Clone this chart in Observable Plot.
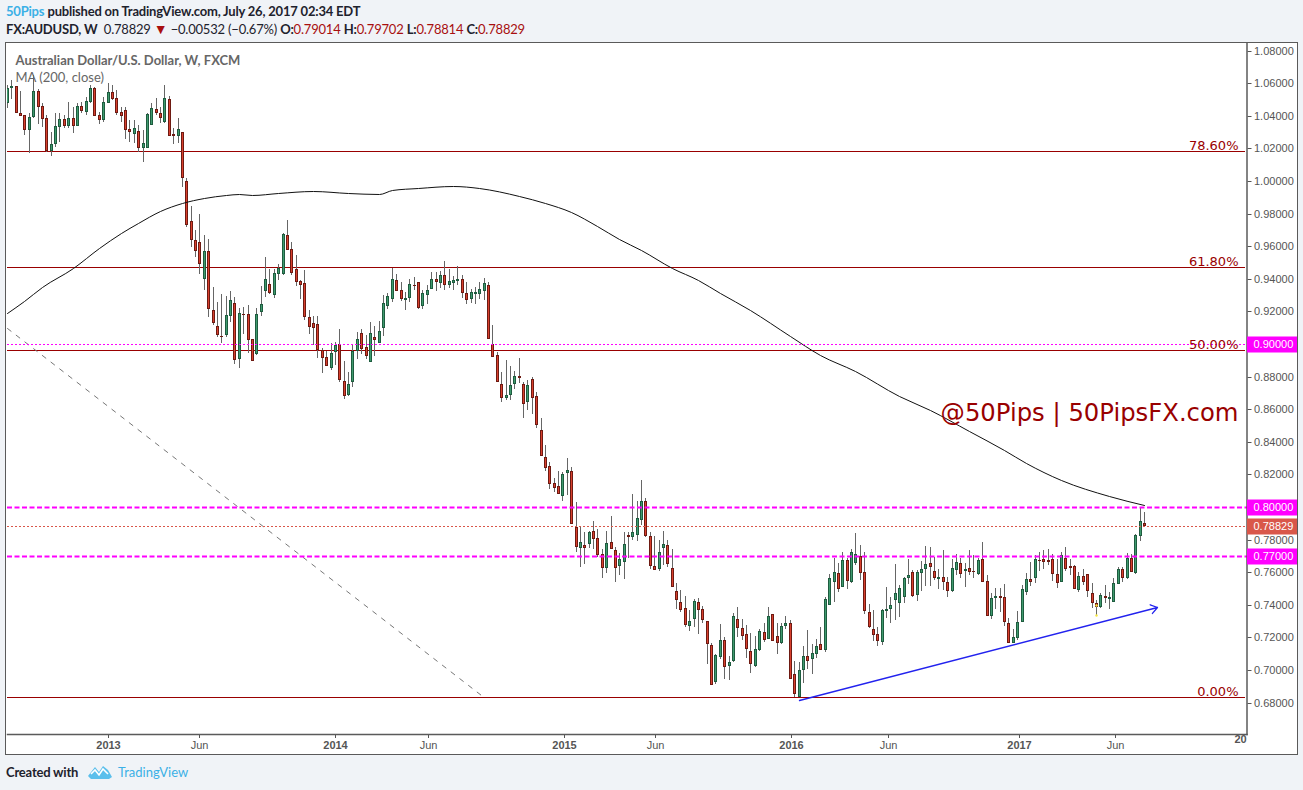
<!DOCTYPE html>
<html><head><meta charset="utf-8">
<script src="https://cdn.jsdelivr.net/npm/d3@7"></script>
<script src="https://cdn.jsdelivr.net/npm/@observablehq/plot@0.6"></script>
<style>
html,body{margin:0;padding:0;background:#f0f3f7;overflow:hidden;width:1303px;height:790px}
.hd{position:absolute;left:6px;white-space:nowrap;font-family:"Lato";font-size:13px;letter-spacing:-.2px;color:#1e222d;line-height:18px}
.hd b{font-weight:700}.blue{color:#3bb0e6}.red{color:#a80f0f}
#logo{position:absolute;left:88px;top:764px}
</style></head><body>
<div class="hd" style="top:2px"><span class="blue" style="font-weight:700">50Pips</span> <b>published on TradingView.com, July 26, 2017 02:34 EDT</b></div>
<div class="hd" style="top:20px"><b>FX:AUDUSD, W</b>&nbsp; 0.78829 <span class="red" style="font-size:14px;line-height:14px">▼</span> −0.00532 (−0.67%) <b>O:</b><span class="red">0.79014</span> <b>H:</b><span class="red">0.79702</span> <b>L:</b><span class="red">0.78814</span> <b>C:</b><span class="red">0.78829</span></div>
<div class="hd" style="top:763px"><b>Created with</b></div>
<svg id="logo" width="24" height="16" viewBox="0 0 24 16"><path d="M0 12 L7 3 L11 8 L15 2 L20 6 L24 13 L21 15 L3 15 Z" fill="#5bbfec"/><path d="M3 10 L7 6 L11 11 L15 5 L20 10" fill="none" stroke="#fff" stroke-width="1.6"/></svg>
<div class="hd blue" style="top:763px;left:118px;letter-spacing:0">TradingView</div>
<script>
// Weekly AUD/USD candles, price x 10000, first week 2012-07-30
const openPips=[10480,10568,10581,10415,10402,10310,10390,10550,10458,10384,10182,10229,10333,10378,10337,10386,10339,10458,10425,10486,10568,10402,10376,10480,10544,10507,10421,10433,10317,10290,10304,10204,10204,10345,10439,10415,10360,10501,10286,10278,10298,9998,9753,9636,9624,9401,9569,9207,9109,9049,9057,9174,9250,8910,9182,9182,9029,8940,9198,9327,9366,9302,9431,9428,9667,9581,9458,9385,9372,9164,9127,9121,8961,8918,8855,8953,9002,8771,8687,8769,8955,9066,8980,8891,9041,9004,9100,9235,9278,9391,9329,9272,9284,9362,9378,9235,9302,9339,9397,9376,9421,9364,9376,9388,9397,9311,9278,9309,9309,9327,9360,9002,8931,8753,8671,8689,8756,8804,8753,8646,8783,8681,8470,8305,8250,8145,8127,8069,8210,8219,7875,7750,7765,7775,7851,7808,7710,7624,7783,7734,7640,7664,7826,7818,7830,7922,8035,7820,7636,7621,7750,7765,7624,7485,7415,7378,7272,7315,7415,7372,7299,7151,6928,7081,7182,7026,7057,7311,7256,7219,7115,7026,7121,7231,7192,7342,7207,7167,7272,7286,6974,6836,7002,7084,7069,7100,7158,7124,7401,7542,7593,7511,7673,7542,7655,7697,7599,7354,7250,7219,7174,7364,7376,7431,7413,7450,7562,7599,7462,7593,7618,7655,7605,7556,7569,7538,7483,7612,7655,7605,7624,7605,7587,7679,7544,7333,7444,7452,7446,7286,7167,7198,7296,7480,7556,7562,7675,7679,7673,7679,7587,7542,7685,7636,7636,7493,7575,7587,7470,7409,7388,7452,7437,7419,7529,7618,7562,7685,7595,7824,7901];
const highPips=[10589,10620,10581,10550,10402,10415,10650,10562,10476,10405,10302,10415,10415,10405,10486,10456,10476,10486,10517,10591,10578,10425,10517,10599,10589,10558,10456,10456,10374,10374,10343,10312,10415,10476,10507,10456,10589,10521,10323,10384,10302,10018,9847,9699,9798,9669,9642,9348,9258,9307,9294,9325,9286,9221,9225,9237,9029,9219,9356,9534,9460,9460,9491,9679,9761,9624,9546,9393,9454,9209,9172,9172,8975,8959,9004,9012,9092,8896,8828,8994,9074,9092,9055,9135,9110,9141,9301,9315,9468,9429,9378,9321,9397,9411,9380,9331,9362,9442,9440,9448,9509,9460,9415,9478,9421,9380,9336,9352,9378,9405,9378,9115,8951,8828,8902,8865,8834,8914,8767,8779,8798,8706,8544,8380,8276,8176,8221,8215,8301,8245,8029,7877,7847,7853,7912,7863,7740,7853,7943,7753,7716,7847,7845,8080,8035,8166,8053,7847,7820,7796,7853,7796,7740,7534,7491,7454,7368,7434,7440,7393,7299,7164,7096,7282,7201,7086,7348,7385,7311,7274,7225,7209,7251,7286,7385,7342,7286,7286,7331,7307,7053,7047,7147,7243,7158,7188,7262,7446,7587,7687,7655,7722,7687,7740,7839,7765,7722,7405,7368,7262,7372,7507,7446,7650,7521,7569,7679,7613,7613,7669,7761,7755,7693,7620,7734,7569,7681,7712,7685,7655,7734,7705,7685,7785,7583,7470,7503,7505,7526,7319,7250,7362,7521,7593,7662,7704,7722,7734,7740,7710,7679,7722,7755,7681,7644,7601,7618,7589,7532,7429,7470,7523,7480,7566,7630,7630,7716,7710,7832,7992,7970];
const lowPips=[10448,10505,10415,10400,10282,10169,10384,10349,10333,10175,10155,10210,10241,10323,10323,10296,10339,10419,10405,10476,10400,10349,10364,10476,10497,10405,10364,10255,10241,10231,10180,10118,10200,10343,10405,10357,10353,10276,10227,10231,9965,9720,9597,9536,9429,9331,9167,9118,9045,9004,9045,9137,8879,8855,9061,8943,8897,8931,9174,9290,9305,9280,9393,9425,9578,9425,9358,9274,9147,9061,8996,8916,8824,8867,8840,8871,8767,8664,8681,8738,8910,8940,8910,8891,8928,9004,9051,9213,9259,9327,9264,9210,9259,9331,9217,9217,9243,9337,9327,9345,9331,9342,9331,9362,9284,9245,9250,9243,9274,9270,9033,8922,8767,8644,8656,8656,8724,8763,8546,8595,8570,8485,8315,8223,8112,8094,8082,8037,8074,7896,7724,7634,7652,7747,7744,7695,7566,7597,7740,7542,7585,7560,7685,7799,7793,7889,7818,7620,7613,7607,7644,7632,7511,7374,7358,7266,7239,7266,7221,7290,7037,6910,6916,7069,6947,6940,7051,7204,7184,7075,6980,7020,7115,7170,7188,7180,7098,7161,7253,6947,6836,6832,6920,7008,6975,7073,7124,7110,7401,7419,7478,7507,7497,7535,7642,7552,7344,7259,7180,7147,7153,7319,7290,7309,7327,7413,7528,7450,7423,7483,7517,7517,7552,7499,7491,7450,7478,7581,7562,7511,7581,7562,7583,7538,7333,7313,7374,7358,7270,7167,7167,7184,7294,7458,7515,7532,7609,7620,7644,7546,7501,7540,7607,7581,7495,7478,7521,7446,7378,7337,7378,7409,7374,7415,7526,7538,7556,7599,7591,7793,7881];
const closePips=[10569,10581,10415,10400,10310,10392,10550,10456,10382,10182,10229,10335,10378,10339,10386,10339,10458,10427,10488,10568,10400,10376,10482,10544,10505,10419,10400,10315,10302,10325,10204,10231,10411,10447,10417,10388,10507,10278,10278,10317,10020,9732,9640,9572,9493,9569,9217,9131,9057,9045,9176,9268,8904,9188,9180,9023,8897,9182,9243,9397,9315,9434,9464,9673,9578,9437,9382,9364,9167,9106,9100,8965,8916,8867,8943,8992,8781,8683,8753,8957,9029,8969,8928,9066,9026,9078,9250,9294,9397,9327,9278,9280,9366,9358,9223,9311,9329,9397,9382,9421,9364,9385,9391,9397,9311,9272,9317,9319,9336,9372,9033,8922,8769,8671,8685,8747,8802,8793,8634,8747,8671,8505,8315,8241,8143,8118,8082,8201,8225,7897,7756,7783,7750,7847,7802,7707,7628,7777,7744,7628,7679,7771,7818,7845,7931,8035,7824,7640,7615,7722,7771,7652,7511,7431,7368,7278,7299,7421,7370,7309,7161,6910,7090,7182,7020,7047,7329,7259,7210,7131,7039,7127,7237,7186,7329,7180,7167,7268,7286,6947,6855,6998,7084,7057,7102,7145,7124,7434,7562,7599,7499,7673,7548,7722,7710,7597,7364,7266,7217,7180,7366,7372,7397,7470,7501,7562,7581,7456,7599,7618,7648,7630,7562,7569,7538,7486,7624,7661,7587,7618,7603,7599,7673,7542,7333,7440,7452,7444,7296,7167,7201,7293,7495,7556,7542,7679,7670,7664,7662,7591,7535,7704,7621,7628,7499,7575,7542,7486,7413,7385,7458,7444,7446,7532,7618,7566,7685,7603,7826,7912,7883];
// MA(200, close), read at selected weeks
const maWeek=[0,4,8,15,21,26,30,35,40,45,50,53,56,62,70,78,85,88,94,102,108,117,123,129,135,140,145,152,158,163,170,179,186,194,204,211,220,228,233,241,252,260];
const maPips=[9192,9264,9348,9464,9586,9681,9745,9813,9865,9896,9913,9918,9916,9928,9937,9925,9922,9942,9954,9969,9957,9905,9865,9810,9724,9644,9575,9469,9390,9310,9209,9049,8933,8834,8681,8595,8466,8350,8273,8166,8067,8012];
const fibLevels=[1.0184,0.9470,0.8963,0.6832];
const fibLabels=["78.60%","61.80%","50.00%","0.00%"];
const dashedStrong=[0.80,0.77];
const dashedThin=[0.90];
const lastPrice=0.78829;
const priceTags=[0.90,0.80,0.77];
const yTicks=[0.68,0.70,0.72,0.74,0.76,0.78,0.80,0.82,0.84,0.86,0.88,0.90,0.92,0.94,0.96,0.98,1.00,1.02,1.04,1.06,1.08];
const yearTicks=["2013-01-08","2014-01-06","2015-01-08","2016-01-06","2017-01-05"].map(d=>new Date(d));
const monthTicks=["2013-06-03","2014-06-04","2015-06-03","2016-06-09","2017-06-07"].map(d=>new Date(d));
const clippedTick=new Date("2017-12-24");
const alertPips=[7397,7337];

const WEEK=7*864e5, start=Date.UTC(2012,6,30);
const weekAt=i=>new Date(start+i*WEEK);
const candles=d3.range(openPips.length).map(i=>({
  date:weekAt(i),open:openPips[i]/1e4,high:highPips[i]/1e4,low:lowPips[i]/1e4,close:closePips[i]/1e4,
  up:closePips[i]>=openPips[i]}));
const ma=maWeek.map((w,i)=>({date:weekAt(w),v:maPips[i]/1e4}));
const xLeft=new Date(start), xRight=new Date("2018-01-04"), xLineEnd=new Date("2018-01-02"), xTagEnd=new Date("2018-03-27");
const DARKRED="#990000", MAG="#ff00ff", LAST="#d9574a";

const chart=Plot.plot({
  width:1291,height:711,marginTop:0,marginBottom:20,marginLeft:1,marginRight:50.5,
  x:{type:"time",domain:[xLeft,xRight],round:true},
  y:{type:"linear",domain:[0.66074,1.08466],round:true},
  style:{position:"absolute",left:"6px",top:"43px",background:"#fff",outline:"1.5px solid #5a5a5a",outlineOffset:"0",fontFamily:"'Liberation Sans'",overflow:"hidden"},
  marks:[
    Plot.axisY({anchor:"right",ticks:yTicks,tickFormat:d3.format(".5f"),tickSize:4,tickPadding:3,color:"#555",fontSize:11,label:null}),
    Plot.axisX(yearTicks,{anchor:"bottom",tickFormat:d=>String(d.getUTCFullYear()),tickSize:4,tickPadding:3,color:"#555",fontSize:11,fontWeight:"bold",label:null}),
    Plot.axisX(monthTicks,{anchor:"bottom",tickFormat:()=>"Jun",tickSize:4,tickPadding:3,color:"#555",fontSize:11,label:null}),
    Plot.text([clippedTick],{x:d=>d,frameAnchor:"bottom",dy:8,text:()=>"20",fill:"#555",fontSize:11,fontWeight:"bold"}),
    Plot.ruleY(fibLevels,{x1:xLeft,x2:xLineEnd,y:d=>d,stroke:DARKRED,strokeWidth:1}),
    Plot.line([{d:weekAt(0),v:.9096},{d:weekAt(108.5),v:.6847}],{x:"d",y:"v",stroke:"#777",strokeWidth:1,strokeDasharray:"4.5 6.5"}),
    Plot.ruleX(candles,{x:"date",y1:"low",y2:"high",stroke:"#666",strokeWidth:1,clip:"frame"}),
    Plot.ruleX(candles,{x:"date",y1:"open",y2:"close",stroke:d=>d.up?"#1e5c3f":"#6e1a12",strokeWidth:3,clip:"frame"}),
    Plot.ruleX(candles,{x:"date",y1:d=>d.open+(d.up?.0006:-.0006),y2:d=>d.close+(d.up?-.0006:.0006),stroke:d=>d.up?"#3f9a6e":"#d8402e",strokeWidth:1,clip:"frame",filter:d=>Math.abs(d.open-d.close)>.0014}),
    Plot.line(ma,{x:"date",y:"v",stroke:"#111",strokeWidth:1,curve:"monotone-x"}),
    Plot.ruleY(dashedThin,{x1:xLeft,x2:xRight,y:d=>d,stroke:MAG,strokeWidth:1,strokeDasharray:"2 2"}),
    Plot.ruleY(dashedStrong,{x1:xLeft,x2:xRight,y:d=>d,stroke:MAG,strokeWidth:2,strokeDasharray:"5 2.5"}),
    Plot.ruleY([lastPrice],{x1:xLeft,x2:xRight,y:d=>d,stroke:LAST,strokeWidth:1,strokeDasharray:"2 2"}),
    Plot.dot(alertPips,{x:weekAt(249),y:d=>d/1e4,r:1.2,fill:"#f5e642",stroke:"none"}),
    Plot.arrow([0],{x1:weekAt(181),y1:.6816,x2:weekAt(262.9),y2:.7385,bend:0,headLength:9,headAngle:70,stroke:"#2222ee",strokeWidth:1.3}),
    Plot.text(fibLevels,{x:xLineEnd,y:d=>d,text:(d,i)=>fibLabels[i],textAnchor:"end",dx:-7,dy:-6,fill:DARKRED,fontSize:13,fontFamily:"'DejaVu Sans'"}),
    Plot.text(["@50Pips | 50PipsFX.com"],{x:xLineEnd,y:.8577,text:d=>d,textAnchor:"end",dx:-7,fill:DARKRED,fontSize:24.3,fontFamily:"'DejaVu Sans'"}),
    Plot.text(["Australian Dollar/U.S. Dollar, W, FXCM"],{frameAnchor:"top-left",dx:8,dy:12,text:d=>d,fill:"#666",fontSize:13,fontWeight:"bold",fontFamily:"Lato"}),
    Plot.text(["MA (200, close)"],{frameAnchor:"top-left",dx:8,dy:29,text:d=>d,fill:"#666",fontSize:13,fontFamily:"Lato"}),
    Plot.frame({anchor:"right",stroke:"#5a5a5a",strokeWidth:1.5}),
    Plot.frame({anchor:"bottom",stroke:"#5a5a5a",strokeWidth:1.5}),
    Plot.ruleY(priceTags,{x1:xRight,x2:xTagEnd,y:d=>d,stroke:MAG,strokeWidth:16}),
    Plot.ruleY([lastPrice],{x1:xRight,x2:xTagEnd,y:d=>d,stroke:LAST,strokeWidth:16}),
    Plot.text([...priceTags,lastPrice],{x:xRight,y:d=>d,text:d=>d3.format(".5f")(d),textAnchor:"start",dx:6,fill:"#fff",fontSize:11})
  ]
});
document.body.appendChild(chart);
</script>
</body></html>
